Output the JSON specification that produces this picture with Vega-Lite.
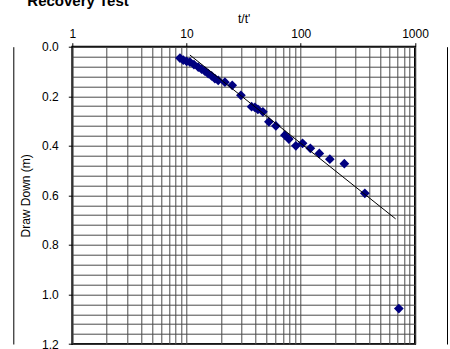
{
  "$schema": "https://vega.github.io/schema/vega-lite/v6.json",
  "autosize": "none",
  "width": 342.7,
  "height": 297.3,
  "padding": {"left": 72.3, "top": 46.7, "right": 35, "bottom": 5},
  "background": "white",
  "title": {
    "text": "Recovery Test",
    "anchor": "start",
    "frame": "group",
    "dx": -45,
    "font": "Liberation Sans",
    "fontSize": 15,
    "fontWeight": "bold",
    "color": "black",
    "offset": 4
  },
  "config": {
    "view": {"stroke": "black", "strokeWidth": 2},
    "font": "Liberation Sans"
  },
  "datasets": {
    "obs": [
      {"t": 8.76, "s": 0.046},
      {"t": 9.36, "s": 0.054},
      {"t": 10.02, "s": 0.059},
      {"t": 10.71, "s": 0.062},
      {"t": 11.61, "s": 0.072},
      {"t": 12.66, "s": 0.082},
      {"t": 13.56, "s": 0.091},
      {"t": 14.49, "s": 0.099},
      {"t": 15.48, "s": 0.109},
      {"t": 16.58, "s": 0.118},
      {"t": 17.72, "s": 0.129},
      {"t": 18.94, "s": 0.136},
      {"t": 21.68, "s": 0.143},
      {"t": 25.11, "s": 0.156},
      {"t": 29.92, "s": 0.196},
      {"t": 37.12, "s": 0.242},
      {"t": 39.67, "s": 0.245},
      {"t": 42.14, "s": 0.253},
      {"t": 46.6, "s": 0.263},
      {"t": 52.6, "s": 0.303},
      {"t": 60.56, "s": 0.32},
      {"t": 72.6, "s": 0.357},
      {"t": 78.7, "s": 0.373},
      {"t": 90.6, "s": 0.4},
      {"t": 103.7, "s": 0.39},
      {"t": 121.3, "s": 0.41},
      {"t": 145.4, "s": 0.431},
      {"t": 179.7, "s": 0.454},
      {"t": 240.7, "s": 0.472},
      {"t": 363.8, "s": 0.592},
      {"t": 721.8, "s": 1.057}
    ],
    "fit": [
      {"t": 10.7, "s": 0.0335},
      {"t": 677, "s": 0.695}
    ]
  },
  "layer": [
    {
      "data": {"name": "obs"},
      "mark": {"type": "point", "shape": "diamond", "filled": true, "color": "#000080", "size": 95, "opacity": 1},
      "encoding": {
        "x": {
          "field": "t", "type": "quantitative",
          "scale": {"type": "log", "domain": [1, 1000], "nice": false},
          "axis": {
            "orient": "top",
            "title": "t/t'",
            "titleFontSize": 12,
            "titleFontWeight": "normal",
            "titleColor": "black",
            "titlePadding": 2,
            "values": [1,2,3,4,5,6,7,8,9,10,20,30,40,50,60,70,80,90,100,200,300,400,500,600,700,800,900,1000],
            "format": "d",
            "labelExpr": "(datum.value == 1 || datum.value == 10 || datum.value == 100 || datum.value == 1000) ? datum.label : ''",
            "labelFontSize": 12,
            "labelColor": "black",
            "labelFlush": false,
            "labelOverlap": false,
            "labelPadding": 2,
            "tickSize": 4,
            "tickColor": {"condition": {"test": "datum.value == 1 || datum.value == 10 || datum.value == 100 || datum.value == 1000", "value": "black"}, "value": "transparent"},
            "domain": false,
            "grid": true,
            "gridColor": "#4a4a4a",
            "gridWidth": 1,
            "gridOpacity": 1
          }
        },
        "y": {
          "field": "s", "type": "quantitative",
          "scale": {"domain": [0, 1.2], "nice": false, "reverse": true, "zero": false},
          "axis": {
            "orient": "left",
            "title": "Draw Down (m)",
            "titleFontSize": 12,
            "titleFontWeight": "normal",
            "titleColor": "black",
            "titlePadding": 9,
            "values": [0,0.04,0.08,0.12,0.16,0.2,0.24,0.28,0.32,0.36,0.4,0.44,0.48,0.52,0.56,0.6,0.64,0.68,0.72,0.76,0.8,0.84,0.88,0.92,0.96,1.0,1.04,1.08,1.12,1.16,1.2],
            "format": ".1f",
            "labelExpr": "(round(datum.value * 100) % 20 == 0) ? datum.label : ''",
            "labelFontSize": 12,
            "labelColor": "black",
            "labelFlush": false,
            "labelOverlap": false,
            "labelPadding": 10,
            "tickSize": 4,
            "tickColor": {"condition": {"test": "round(datum.value * 100) % 20 == 0", "value": "black"}, "value": "transparent"},
            "domain": false,
            "grid": true,
            "gridColor": "#4a4a4a",
            "gridWidth": 1,
            "gridOpacity": 1
          }
        }
      }
    },
    {
      "data": {"name": "fit"},
      "mark": {"type": "line", "color": "black", "strokeWidth": 1},
      "encoding": {
        "x": {"field": "t", "type": "quantitative"},
        "y": {
          "field": "s", "type": "quantitative",
          "axis": {"orient": "right", "offset": 32, "title": null, "labels": false, "ticks": false, "grid": false, "domain": true, "domainColor": "black", "domainWidth": 1}
        }
      }
    },
    {
      "data": {"name": "fit"},
      "mark": {"type": "line", "strokeOpacity": 0},
      "encoding": {
        "x": {"field": "t", "type": "quantitative"},
        "y": {
          "field": "s", "type": "quantitative",
          "axis": {"orient": "left", "offset": 59, "title": null, "labels": false, "ticks": false, "grid": false, "domain": true, "domainColor": "black", "domainWidth": 1}
        }
      }
    }
  ],
  "resolve": {"axis": {"y": "independent"}}
}
